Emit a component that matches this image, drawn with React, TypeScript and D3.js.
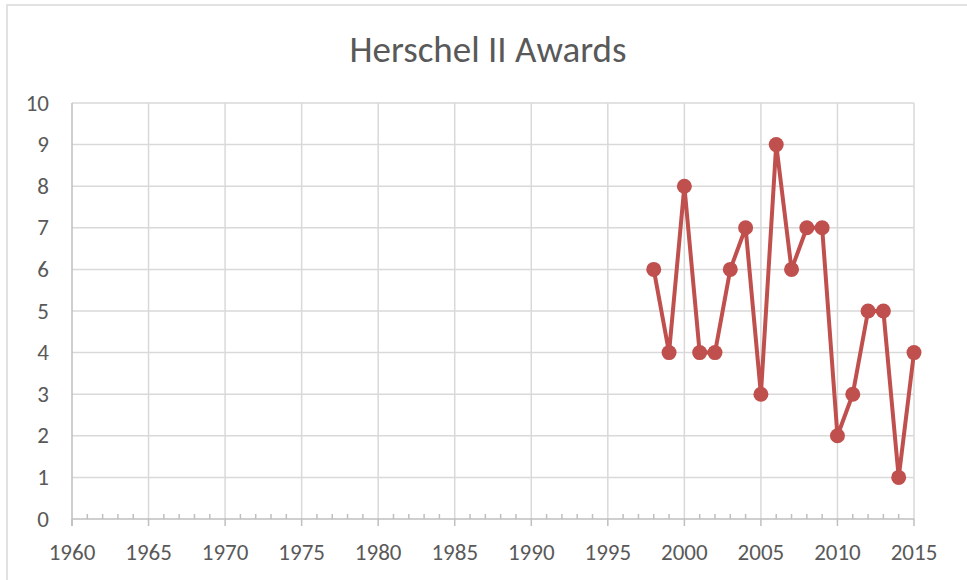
import React from "react";
import * as d3 from "d3";

const title = "Herschel II Awards";
const years = [1998, 1999, 2000, 2001, 2002, 2003, 2004, 2005, 2006, 2007, 2008, 2009, 2010, 2011, 2012, 2013, 2014, 2015];
const awards = [6, 4, 8, 4, 4, 6, 7, 3, 9, 6, 7, 7, 2, 3, 5, 5, 1, 4];
const xTicks = [1960, 1965, 1970, 1975, 1980, 1985, 1990, 1995, 2000, 2005, 2010, 2015];
const yTicks = [0, 1, 2, 3, 4, 5, 6, 7, 8, 9, 10];

export default function App() {
  const W = 967, H = 580;
  const x = d3.scaleLinear().domain([1960, 2015]).range([72, 914]);
  const y = d3.scaleLinear().domain([0, 10]).range([519, 103]);
  const line = d3.line<number>().x((d, i) => x(years[i])).y((d) => y(d));
  const minor = d3.range(1960, 2016).filter((v) => v % 5 !== 0);
  const font = "Calibri, Carlito, 'Open Sans', sans-serif";
  const grid = "#d9d9d9";
  const axis = "#bfbfbf";
  const red = "#C0504D";
  return (
    <svg width={W} height={H} style={{ position: "absolute", left: 0, top: 0 }}>
      <rect x={0} y={0} width={W} height={H} fill="#fff" />
      <rect x={7} y={5} width={W + 10} height={H + 10} fill="none" stroke="#d9d9d9" strokeWidth={1.5} />
      <text x={488} y={62} textAnchor="middle" fontFamily={font} fontSize={37} fill="#595959">{title}</text>
      {yTicks.map((t) => (
        <g key={"y" + t}>
          {t > 0 && <line x1={72} x2={914} y1={y(t)} y2={y(t)} stroke={grid} strokeWidth={1.5} />}
          <text x={49} y={y(t) + 7.5} textAnchor="end" fontFamily={font} fontSize={23} fill="#595959">{t}</text>
        </g>
      ))}
      {xTicks.map((t) => (
        <g key={"x" + t}>
          {t > 1960 && <line x1={x(t)} x2={x(t)} y1={103} y2={519} stroke={grid} strokeWidth={1.5} />}
          <line x1={x(t)} x2={x(t)} y1={519} y2={526} stroke={axis} strokeWidth={1.5} />
          <text x={x(t)} y={560} textAnchor="middle" fontFamily={font} fontSize={23} fill="#595959">{t}</text>
        </g>
      ))}
      {minor.map((t) => (
        <line key={"m" + t} x1={x(t)} x2={x(t)} y1={519} y2={514} stroke={axis} strokeWidth={1.5} />
      ))}
      <line x1={72} x2={72} y1={103} y2={526} stroke={axis} strokeWidth={1.5} />
      <line x1={72} x2={914} y1={519} y2={519} stroke={axis} strokeWidth={1.5} />
      <path d={line(awards) || ""} fill="none" stroke={red} strokeWidth={4} strokeLinejoin="round" />
      {awards.map((v, i) => (
        <circle key={"c" + i} cx={x(years[i])} cy={y(v)} r={7.5} fill={red} />
      ))}
    </svg>
  );
}
